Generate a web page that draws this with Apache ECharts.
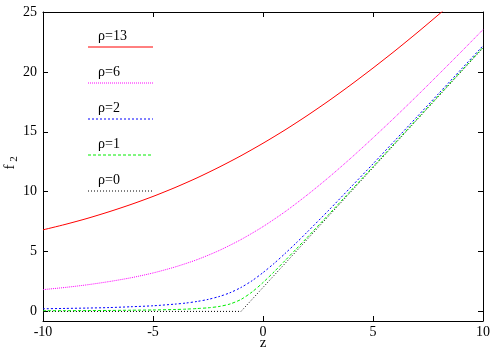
<!DOCTYPE html>
<html>
<head>
<meta charset="utf-8">
<script src="https://cdn.jsdelivr.net/npm/echarts@6/dist/echarts.min.js"></script>
<style>html,body{margin:0;padding:0;background:#fff}#c{width:500px;height:350px}</style>
</head>
<body>
<div id="c"></div>
<script>
// ---- data ----
const zInt = [-10,-9,-8,-7,-6,-5,-4,-3,-2,-1,0,1,2,3,4,5,6,7,8,9,10];
const zFine = [-10,-9,-8,-7,-6,-5,-4,-3.5,-3,-2.5,-2,-1.5,-1,-0.5,0,0.5,1,1.5,2,3,4,5,6,7,8,9,10];
const zZero = [-10,-1,10];
const rho13 = [6.81,7.26,7.76,8.32,8.93,9.60,10.34,11.15,12.04,13.00,14.04,15.15,16.34,17.60,18.93,20.32,21.76,23.26,24.81,26.40,28.03];
const rho6 = [1.82,2.00,2.22,2.49,2.81,3.21,3.71,4.32,5.08,6.00,7.08,8.32,9.71,11.21,12.81,14.49,16.22,18.00,19.82,21.66,23.53];
const rho2 = [0.22,0.25,0.28,0.32,0.39,0.47,0.61,0.70,0.83,1.00,1.24,1.56,2.00,2.56,3.24,4.00,4.83,5.70,6.61,8.47,10.39,12.32,14.28,16.25,18.22,20.20,22.18];
const rho1 = [0.06,0.06,0.07,0.08,0.10,0.12,0.16,0.19,0.24,0.30,0.41,0.62,1.00,1.62,2.41,3.30,4.24,5.19,6.16,8.12,10.10,12.08,14.07,16.06,18.06,20.05,22.05];
const rho0 = [0,0,22];
const legendLabels = ['ρ=13','ρ=6','ρ=2','ρ=1','ρ=0'];
const xTicks = [-10,-5,0,5,10];
const yTicks = [0,5,10,15,20,25];
const xTitle = 'z';

// ---- styling ----
const FONT = 'Liberation Serif';
const colors = ['#ff0000','#ff00ff','#0000ff','#00ee00','#000000'];
const dashes = ['solid',[1,1],[2,2],[3,2],[1,2]];
const pairs = (xs, ys) => xs.map((x, i) => [x, ys[i]]);
const seriesData = [pairs(zInt,rho13), pairs(zInt,rho6), pairs(zFine,rho2), pairs(zFine,rho1), pairs(zZero,rho0)];

const chart = echarts.init(document.getElementById('c'), null, {renderer:'canvas'});
const axisCommon = {
  type:'value',
  axisLine:{show:true, onZero:false, lineStyle:{color:'#000', width:1}},
  axisTick:{show:true, inside:true, length:5, lineStyle:{color:'#000', width:1}},
  splitLine:{show:false}
};
const labelStyle = {color:'#000', fontFamily:FONT, fontSize:14};

const series = seriesData.map((d, i) => ({
  name: legendLabels[i],
  type:'line',
  data:d,
  showSymbol:false,
  symbol:'none',
  smooth: i < 4 ? 0.25 : false,
  clip:true,
  animation:false,
  lineStyle:{color:colors[i], width:1, type:dashes[i]},
  z: 10 - i
}));

const graphic = [];
const legendY = [47, 83, 119, 155, 191];
legendLabels.forEach((lab, i) => {
  graphic.push({type:'line', shape:{x1:88, y1:legendY[i], x2:153, y2:legendY[i]},
    style:{stroke:colors[i], lineWidth:1, lineDash: dashes[i]==='solid' ? null : dashes[i]}, z:100});
  graphic.push({type:'text', x:98, y:legendY[i]-11,
    style:{text:lab, fontFamily:FONT, fontSize:14, fill:'#000', verticalAlign:'middle', align:'left'}, z:100});
});
graphic.push({type:'text', x:10, y:167, rotation:Math.PI/2,
  style:{text:'f', fontFamily:FONT, fontSize:15, fill:'#000', align:'center', verticalAlign:'middle'}});
graphic.push({type:'text', x:14, y:159, rotation:Math.PI/2,
  style:{text:'2', fontFamily:FONT, fontSize:11, fill:'#000', align:'center', verticalAlign:'middle'}});
graphic.push({type:'text', x:263, y:343,
  style:{text:xTitle, fontFamily:FONT, fontSize:15, fill:'#000', align:'center', verticalAlign:'middle'}});

chart.setOption({
  animation:false,
  backgroundColor:'#fff',
  grid:{left:43, right:17, top:12, bottom:29, containLabel:false, outerBoundsMode:'none'},
  xAxis:[
    Object.assign({}, axisCommon, {position:'bottom', min:-10, max:10, interval:5,
      axisLabel:Object.assign({margin:4, customValues:xTicks}, labelStyle),
      axisTick:Object.assign({}, axisCommon.axisTick, {customValues:xTicks})}),
    Object.assign({}, axisCommon, {position:'top', min:-10, max:10, interval:5,
      axisLabel:{show:false},
      axisTick:Object.assign({}, axisCommon.axisTick, {customValues:xTicks})})
  ],
  yAxis:[
    Object.assign({}, axisCommon, {position:'left', min:-0.8, max:25,
      axisLabel:Object.assign({margin:6, customValues:yTicks}, labelStyle),
      axisTick:Object.assign({}, axisCommon.axisTick, {customValues:yTicks})}),
    Object.assign({}, axisCommon, {position:'right', min:-0.8, max:25,
      axisLabel:{show:false},
      axisTick:Object.assign({}, axisCommon.axisTick, {customValues:yTicks})})
  ],
  series:series,
  graphic:graphic
});
</script>
</body>
</html>
